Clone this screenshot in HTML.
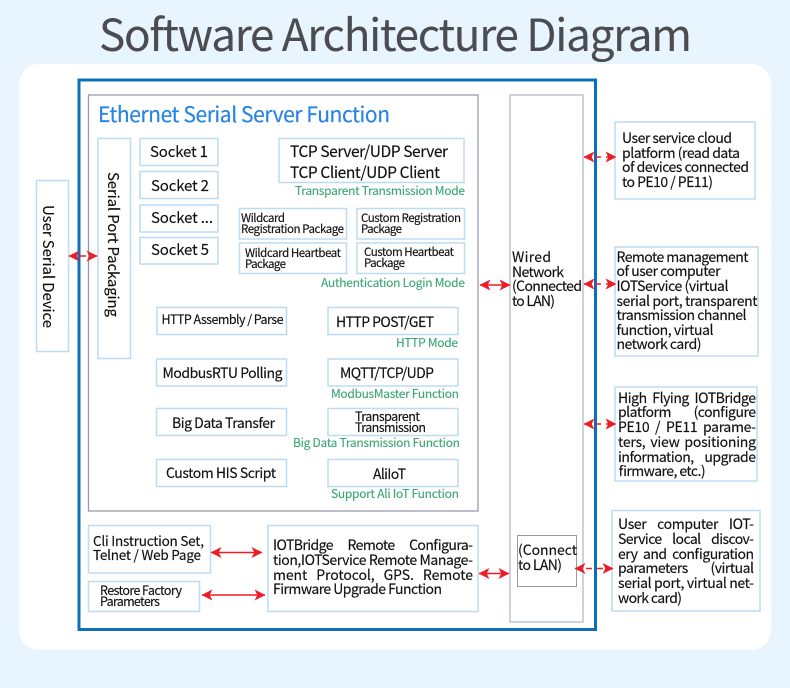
<!DOCTYPE html>
<html><head><meta charset="utf-8"><style>
html,body{margin:0;padding:0;background:#e8f4fe}
svg{display:block}
text{font-family:"Noto Sans CJK SC","Liberation Sans",sans-serif;fill:#111;stroke:#111;stroke-width:.15;font-size:13px}
.b{fill:#fff;stroke:#bcdcf3;stroke-width:1.5}
text.g{fill:#3aa673;stroke:#3aa673;stroke-width:.12;font-size:12px}
.a{stroke:#ee1c25;stroke-width:1.6;fill:none}
.d{stroke-dasharray:6 5}
.h{fill:#ee1c25;stroke:none}
</style></head><body>
<svg xmlns="http://www.w3.org/2000/svg" width="790" height="688" viewBox="0 0 790 688">
<defs>
<marker id="e" viewBox="0 0 10 10" refX="9.5" refY="5" markerWidth="11" markerHeight="11" markerUnits="userSpaceOnUse" orient="auto-start-reverse"><path class="h" d="M0 0L10 5L0 10L2.5 5Z"/></marker>
</defs>
<rect width="790" height="688" fill="#e8f4fe"/>
<rect x="19" y="64" width="752" height="586" rx="20" fill="#fff"/>
<text x="99" y="51" textLength="593" style="font-size:44px;fill:#4a4c50;stroke:#4a4c50;stroke-width:.1">Software Architecture Diagram</text>

<rect x="79" y="80" width="516.5" height="549.5" fill="#fff" stroke="#0d6fb8" stroke-width="3"/>
<rect x="88.5" y="95" width="389.5" height="416" fill="#fff" stroke="#9a9aae" stroke-width="1.3"/>
<text x="98" y="122" textLength="292" style="font-size:21px;fill:#2a85e0;stroke:#2a85e0;stroke-width:.2">Ethernet Serial Server Function</text>
<rect x="510" y="95" width="73" height="527" fill="#fff" stroke="#b4b8cc" stroke-width="1.3"/>
<rect x="517.5" y="535.5" width="59" height="51" fill="#fff" stroke="#9a9aa6" stroke-width="1"/>

<rect class="b" x="36.5" y="180.5" width="32" height="171"/>
<text transform="translate(43,205) rotate(90)" textLength="123" style="font-size:15px">User Serial Device</text>
<rect class="b" x="98" y="138.5" width="32.5" height="220"/>
<text transform="translate(108,172) rotate(90)" textLength="145" style="font-size:15px">Serial Port Packaging</text>

<rect class="b" x="140" y="138.5" width="78" height="27"/><text x="150" y="157" textLength="58" style="font-size:15px">Socket 1</text>
<rect class="b" x="140" y="171.5" width="78" height="27"/><text x="151" y="191" textLength="58" style="font-size:15px">Socket 2</text>
<rect class="b" x="140" y="205" width="78" height="27"/><text x="151" y="223" textLength="62" style="font-size:15px">Socket ...</text>
<rect class="b" x="140" y="237.5" width="78" height="26.5"/><text x="151" y="255" textLength="58" style="font-size:15px">Socket 5</text>

<rect class="b" x="279" y="138.5" width="185" height="44"/>
<text x="290" y="157" textLength="158" style="font-size:15.5px">TCP Server/UDP Server</text>
<text x="290" y="178" textLength="150" style="font-size:15.5px">TCP Client/UDP Client</text>
<text class="g" x="295" y="195" textLength="170">Transparent Transmission Mode</text>

<rect class="b" x="239.5" y="208.5" width="107" height="30.5"/>
<text x="241" y="222" textLength="44" style="font-size:11.5px">Wildcard</text>
<text x="241" y="233" textLength="103" style="font-size:11.5px">Registration Package</text>
<rect class="b" x="357" y="208.5" width="107.5" height="30.5"/>
<text x="361" y="222" textLength="100" style="font-size:11.5px">Custom Registration</text>
<text x="361" y="233" textLength="41" style="font-size:11.5px">Package</text>
<rect class="b" x="239.5" y="243" width="107" height="30.5"/>
<text x="245" y="257" textLength="96" style="font-size:11.5px">Wildcard Heartbeat</text>
<text x="245" y="268" textLength="41" style="font-size:11.5px">Package</text>
<rect class="b" x="357" y="243" width="107.5" height="30.5"/>
<text x="364" y="256" textLength="90" style="font-size:11.5px">Custom Heartbeat</text>
<text x="364" y="267" textLength="41" style="font-size:11.5px">Package</text>
<text class="g" x="321" y="287" textLength="144">Authentication Login Mode</text>

<rect class="b" x="157" y="307.5" width="129.5" height="27"/>
<text x="161.5" y="324" textLength="122" style="font-size:12.5px">HTTP Assembly / Parse</text>
<rect class="b" x="328" y="307.5" width="130" height="27"/>
<text x="336" y="327" textLength="98" style="font-size:14px">HTTP POST/GET</text>
<text class="g" x="396" y="347" textLength="62">HTTP Mode</text>

<rect class="b" x="156.5" y="359" width="130" height="27"/>
<text x="162.5" y="378" textLength="120" style="font-size:14px">ModbusRTU Polling</text>
<rect class="b" x="328" y="359" width="130" height="27"/>
<text x="340" y="378" textLength="94" style="font-size:14px">MQTT/TCP/UDP</text>
<text class="g" x="331" y="398" textLength="128">ModbusMaster Function</text>

<rect class="b" x="156.5" y="408.5" width="130" height="27"/>
<text x="172" y="428" textLength="103" style="font-size:14px">Big Data Transfer</text>
<rect class="b" x="328" y="408.5" width="130" height="27"/>
<text x="355" y="421" textLength="65" style="font-size:12.5px">Transparent</text>
<text x="355" y="432" textLength="71" style="font-size:12.5px">Transmission</text>
<text class="g" x="293" y="447" textLength="167">Big Data Transmission Function</text>

<rect class="b" x="156.5" y="459.5" width="130" height="27"/>
<text x="166" y="478" textLength="110" style="font-size:14px">Custom HIS Script</text>
<rect class="b" x="328" y="459.5" width="130" height="27"/>
<text x="373" y="479" textLength="33" style="font-size:14px">AliIoT</text>
<text class="g" x="331" y="498" textLength="128">Support Ali IoT Function</text>

<rect class="b" x="88.5" y="525.5" width="122" height="47.5"/>
<text x="93" y="546" textLength="111" style="font-size:13.5px">Cli Instruction Set,</text>
<text x="93" y="560" textLength="108" style="font-size:13.5px">Telnet / Web Page</text>
<rect class="b" x="88.5" y="581.5" width="111" height="30"/>
<text x="100" y="595" textLength="82" style="font-size:12.5px">Restore Factory</text>
<text x="100" y="606" textLength="60" style="font-size:12.5px">Parameters</text>

<rect class="b" x="268" y="525.5" width="210" height="86"/>
<text x="273" y="550" textLength="200" style="font-size:14px" word-spacing="12">IOTBridge Remote Configura-</text>
<text x="273" y="565" textLength="200" style="font-size:14px">tion,IOTService Remote Manage-</text>
<text x="273" y="580" textLength="200" style="font-size:14px" word-spacing="6">ment Protocol, GPS. Remote</text>
<text x="273" y="594" textLength="169" style="font-size:14px">Firmware Upgrade Function</text>

<text x="512" y="262" textLength="39" style="font-size:14px">Wired</text>
<text x="512" y="277" textLength="52" style="font-size:14px">Network</text>
<text x="512" y="291" textLength="70" style="font-size:14px">(Connected</text>
<text x="512" y="306" textLength="43" style="font-size:14px">to LAN)</text>
<text x="518" y="555" textLength="59" style="font-size:14px">(Connect</text>
<text x="518" y="570" textLength="44" style="font-size:14px">to LAN)</text>

<rect class="b" x="615" y="122" width="140" height="77"/>
<text x="622" y="143" textLength="110" style="font-size:14px">User service cloud</text>
<text x="622" y="158" textLength="118" style="font-size:14px">platform (read data</text>
<text x="622" y="172" textLength="127" style="font-size:14px">of devices connected</text>
<text x="622" y="187" textLength="91" style="font-size:14px">to PE10 / PE11)</text>

<rect class="b" x="615" y="247" width="143" height="109"/>
<text x="616.5" y="262" textLength="132" style="font-size:14px">Remote management</text>
<text x="616.5" y="276" textLength="104" style="font-size:14px">of user computer</text>
<text x="616.5" y="291" textLength="112" style="font-size:14px">IOTService (virtual</text>
<text x="616.5" y="306" textLength="141" style="font-size:14px">serial port, transparent</text>
<text x="616.5" y="320" textLength="130" style="font-size:14px">transmission channel</text>
<text x="616.5" y="335" textLength="97" style="font-size:14px">function, virtual</text>
<text x="616.5" y="349" textLength="85" style="font-size:14px">network card)</text>

<rect class="b" x="615" y="387" width="142" height="94"/>
<text x="618" y="403" textLength="138" style="font-size:14px" word-spacing="3">High Flying IOTBridge</text>
<text x="618" y="417" textLength="138" style="font-size:14px" word-spacing="20">platform (configure</text>
<text x="618" y="432" textLength="138" style="font-size:14px" word-spacing="3">PE10 / PE11 parame-</text>
<text x="618" y="447" textLength="138" style="font-size:14px" word-spacing="2">ters, view positioning</text>
<text x="618" y="462" textLength="138" style="font-size:14px" word-spacing="8">information, upgrade</text>
<text x="618" y="476" textLength="87" style="font-size:14px">firmware, etc.)</text>

<rect class="b" x="612" y="510.5" width="148" height="100.5"/>
<text x="618" y="529" textLength="136" style="font-size:14px" word-spacing="8">User computer IOT-</text>
<text x="618" y="544" textLength="136" style="font-size:14px" word-spacing="8">Service local discov-</text>
<text x="618" y="559" textLength="136" style="font-size:14px" word-spacing="3">ery and configuration</text>
<text x="618" y="573" textLength="136" style="font-size:14px" word-spacing="20">parameters (virtual</text>
<text x="618" y="588" textLength="136" style="font-size:14px">serial port, virtual net-</text>
<text x="618" y="603" textLength="64" style="font-size:14px">work card)</text>

<path class="a d" d="M69 256H97" marker-start="url(#e)" marker-end="url(#e)"/>
<path class="a" d="M480 285H510" marker-start="url(#e)" marker-end="url(#e)"/>
<path class="a d" d="M584 157H616" marker-start="url(#e)" marker-end="url(#e)"/>
<path class="a d" d="M584 284H616" marker-start="url(#e)" marker-end="url(#e)"/>
<path class="a d" d="M584 424H616" marker-start="url(#e)" marker-end="url(#e)"/>
<path class="a d" d="M575 568.5H613" marker-start="url(#e)" marker-end="url(#e)"/>
<path class="a" d="M211 552.5H262" marker-start="url(#e)" marker-end="url(#e)"/>
<path class="a" d="M202 595H265" marker-start="url(#e)" marker-end="url(#e)"/>
<path class="a" d="M479 573.5H509" marker-start="url(#e)" marker-end="url(#e)"/>
</svg>
</body></html>
